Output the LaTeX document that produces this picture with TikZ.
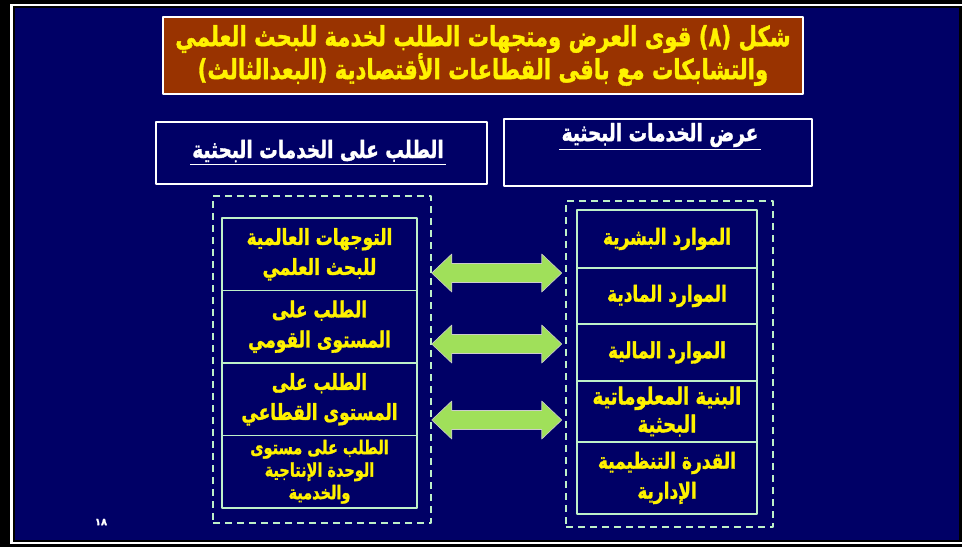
\documentclass[tikz,border=0pt]{standalone}
\usepackage{fontspec}
\newfontfamily\arabicfont[Script=Arabic,BoldFeatures={FakeBold=1.5}]{DejaVu Sans}
\TeXXeTstate=1
\definecolor{navy}{RGB}{0,0,102}
\definecolor{brick}{RGB}{153,51,0}
\definecolor{mint}{RGB}{190,240,200}
\definecolor{leaf}{RGB}{160,224,90}
\newcommand{\artext}[1]{\scalebox{1}[1.3]{\beginR #1\endR}}
\begin{document}
\begin{tikzpicture}[x=1pt,y=-1pt,line join=round,
    cell/.style={draw=mint,line width=1.5pt,fill=navy,text=yellow,align=center,inner sep=0pt,
        font=\arabicfont\bfseries\fontsize{17}{30}\selectfont},
    dashbox/.style={draw=mint,line width=1.5pt,dash pattern=on 7pt off 5pt},
    hbox/.style={draw=white,line width=1.8pt},
    htext/.style={text=white,inner sep=2pt,font=\arabicfont\bfseries\fontsize{18.5}{22}\selectfont},
    dblarrow/.style={fill=leaf,draw=gray!40,line width=.6pt}]
    \useasboundingbox (0,0) rectangle (962,547);
    \fill[black] (0,0) rectangle (962,547);
    \fill[white] (10,4) rectangle (962,544);
    \fill[black] (12.5,6) rectangle (962,542);
    \fill[navy] (15,8) rectangle (959,540);
    % title
    \node[draw=white,line width=2pt,fill=brick,minimum width=640,minimum height=77,text=yellow,align=center,
        font=\arabicfont\bfseries\fontsize{21.2}{33}\selectfont] (title) at (483,55.5)
        {\artext{شكل (٨) قوى العرض ومتجهات الطلب لخدمة للبحث العلمي}\\
         \artext{والتشابكات مع باقى القطاعات الأقتصادية (البعدالثالث)}};
    % headers
    \node[hbox,minimum width=331,minimum height=62] (hdem) at (321.5,153) {};
    \node[hbox,minimum width=308,minimum height=67] (hsup) at (658,152.5) {};
    \node[htext] (tdem) at (318,151) {\artext{الطلب على الخدمات البحثية}};
    \node[htext] (tsup) at (660,135) {\artext{عرض الخدمات البحثية}};
    \foreach\n in{tdem,tsup}{\draw[white,line width=.8pt](\n.south west)--(\n.south east);}
    % dashed frames
    \node[dashbox,minimum width=218,minimum height=327] (dem) at (322,359.5) {};
    \node[dashbox,minimum width=207,minimum height=326] (sup) at (669.5,364) {};
    % demand side
    \foreach\t[count=\i] in{{\artext{التوجهات العالمية}\\\artext{للبحث العلمي}},
        {\artext{الطلب على}\\\artext{المستوى القومي}},
        {\artext{الطلب على}\\\artext{المستوى القطاعي}}}
        \node[cell,minimum width=195,minimum height=72.5] (d\i) at (319.5,{218+72.5*(\i-.5)}) {\t};
    \node[cell,minimum width=195,minimum height=72.5,font=\arabicfont\bfseries\fontsize{14.5}{22.5}\selectfont] (d4) at (319.5,471.75)
        {\artext{الطلب على مستوى}\\\artext{الوحدة الإنتاجية}\\\artext{والخدمية}};
    % supply side
    \foreach\y/\h/\t[count=\i] in{239/58/{\artext{الموارد البشرية}},
        296/56/{\artext{الموارد المادية}},
        352.5/57/{\artext{الموارد المالية}}}
        \node[cell,minimum width=180,minimum height=\h] (s\i) at (667,\y) {\t};
    \node[cell,minimum width=180,minimum height=61,font=\arabicfont\bfseries\fontsize{18}{28}\selectfont] (s4) at (667,411.5)
        {\artext{البنية المعلوماتية}\\\artext{البحثية}};
    \node[cell,minimum width=180,minimum height=72] (s5) at (667,478)
        {\artext{القدرة التنظيمية}\\\artext{الإدارية}};
    % arrows
    \foreach\y in{273,344,420}
        \draw[dblarrow] (dem.east|-0,\y) -- ++(20,-19) -- ++(0,9.5) -- ++(90,0) -- ++(0,-9.5) -- ++(20,19)
            -- ++(-20,19) -- ++(0,-9.5) -- ++(-90,0) -- ++(0,9.5) -- cycle;
    \node[text=white,font=\arabicfont\bfseries\fontsize{10}{10}\selectfont] (pg) at (101,522) {١٨};
\end{tikzpicture}
\end{document}
